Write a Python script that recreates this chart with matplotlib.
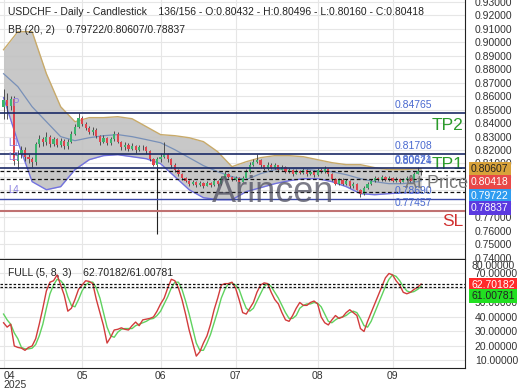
import numpy as np
import pandas as pd
import matplotlib
matplotlib.use("Agg")
import matplotlib.pyplot as plt

plt.rcParams['font.family'] = ['Liberation Sans', 'DejaVu Sans']

# daily candles, USDCHF, from 2025-04-01 (open of a bar = previous close)
first_open = 0.852
close = [0.857, 0.853, 0.858, 0.812, 0.817, 0.820, 0.815, 0.813, 0.811, 0.8245,
         0.828, 0.826, 0.830, 0.8245, 0.828, 0.824, 0.827, 0.823, 0.826, 0.832,
         0.837, 0.844, 0.8395, 0.8365, 0.8335, 0.835, 0.8305, 0.826, 0.829, 0.8255,
         0.828, 0.832, 0.826, 0.822, 0.824, 0.821, 0.823, 0.820, 0.8225, 0.822,
         0.819, 0.813, 0.809, 0.813, 0.815, 0.817, 0.813, 0.809, 0.8055, 0.8025,
         0.7995, 0.797, 0.795, 0.7965, 0.794, 0.7955, 0.7935, 0.7955, 0.794, 0.797,
         0.795, 0.7995, 0.8025, 0.800, 0.798, 0.7995, 0.7965, 0.7995, 0.804, 0.809,
         0.811, 0.8125, 0.8085, 0.806, 0.809, 0.807, 0.8085, 0.8055, 0.8075, 0.804,
         0.8055, 0.8025, 0.8045, 0.803, 0.8055, 0.8025, 0.804, 0.8015, 0.8055, 0.804,
         0.806, 0.8025, 0.7985, 0.795, 0.798, 0.795, 0.797, 0.7935, 0.795, 0.7905,
         0.7875, 0.792, 0.795, 0.797, 0.7995, 0.798, 0.800, 0.798, 0.7995, 0.797,
         0.7985, 0.7965, 0.798, 0.7995, 0.797, 0.8025, 0.80432, 0.80418]
high = [0.865, 0.862, 0.860, 0.860, 0.820, 0.823, 0.822, 0.817, 0.815, 0.826,
        0.831, 0.830, 0.833, 0.831, 0.830, 0.829, 0.829, 0.828, 0.828, 0.834,
        0.839, 0.8476, 0.845, 0.841, 0.838, 0.837, 0.836, 0.831, 0.831, 0.830,
        0.830, 0.834, 0.833, 0.827, 0.826, 0.825, 0.825, 0.824, 0.824, 0.824,
        0.823, 0.820, 0.814, 0.815, 0.8175, 0.826, 0.818, 0.814, 0.810, 0.806,
        0.803, 0.800, 0.798, 0.798, 0.797, 0.797, 0.796, 0.797, 0.796, 0.799,
        0.798, 0.801, 0.8045, 0.803, 0.801, 0.801, 0.800, 0.801, 0.806, 0.811,
        0.813, 0.8168, 0.813, 0.809, 0.811, 0.810, 0.810, 0.809, 0.809, 0.808,
        0.807, 0.806, 0.806, 0.805, 0.807, 0.806, 0.8055, 0.805, 0.807, 0.8065,
        0.808, 0.807, 0.803, 0.799, 0.7995, 0.799, 0.7985, 0.798, 0.7965, 0.7955,
        0.791, 0.7935, 0.7965, 0.7985, 0.801, 0.800, 0.8015, 0.801, 0.801, 0.800,
        0.800, 0.799, 0.7995, 0.801, 0.800, 0.804, 0.8075, 0.80496]
low = [0.843, 0.843, 0.850, 0.809, 0.806, 0.814, 0.812, 0.810, 0.8075, 0.809,
       0.822, 0.823, 0.824, 0.822, 0.823, 0.822, 0.822, 0.821, 0.821, 0.825,
       0.831, 0.836, 0.838, 0.835, 0.832, 0.831, 0.829, 0.824, 0.825, 0.824,
       0.824, 0.827, 0.825, 0.820, 0.820, 0.819, 0.820, 0.818, 0.819, 0.820,
       0.817, 0.812, 0.808, 0.807, 0.811, 0.814, 0.811, 0.807, 0.804, 0.801,
       0.798, 0.796, 0.7935, 0.794, 0.7925, 0.793, 0.792, 0.793, 0.7925, 0.793,
       0.7935, 0.794, 0.799, 0.799, 0.797, 0.797, 0.7955, 0.796, 0.799, 0.803,
       0.808, 0.810, 0.807, 0.805, 0.805, 0.806, 0.806, 0.804, 0.805, 0.803,
       0.803, 0.801, 0.802, 0.802, 0.802, 0.801, 0.8015, 0.800, 0.801, 0.803,
       0.803, 0.801, 0.797, 0.794, 0.794, 0.794, 0.794, 0.792, 0.792, 0.790,
       0.785, 0.7865, 0.791, 0.794, 0.796, 0.797, 0.797, 0.797, 0.797, 0.796,
       0.796, 0.7955, 0.796, 0.797, 0.796, 0.7965, 0.802, 0.80160]

# Bollinger bands (20, 2), read every 4th bar
bb_idx = list(range(0, 117, 4)) + [117]
bb_upper = [0.8944, 0.9078, 0.9078, 0.8766, 0.8521, 0.8410, 0.8440, 0.8440, 0.8447, 0.8432,
            0.8373, 0.8314, 0.8306, 0.8291, 0.8262, 0.8187, 0.8076, 0.8113, 0.8143, 0.8158,
            0.8158, 0.8150, 0.8128, 0.8106, 0.8091, 0.8091, 0.8069, 0.8054, 0.8054, 0.8061, 0.80607]
bb_mid = [0.8766, 0.8670, 0.8521, 0.8410, 0.8299, 0.8269, 0.8291, 0.8306, 0.8314, 0.8299,
          0.8277, 0.8254, 0.8202, 0.8143, 0.8084, 0.8039, 0.8002, 0.7980, 0.8024, 0.8054,
          0.8061, 0.8061, 0.8046, 0.8039, 0.8017, 0.7987, 0.7965, 0.7950, 0.7950, 0.7965, 0.79722]
bb_lower = [0.8588, 0.8262, 0.7965, 0.7905, 0.7928, 0.8054, 0.8128, 0.8158, 0.8165, 0.8150,
            0.8135, 0.8098, 0.8002, 0.7905, 0.7846, 0.7831, 0.7831, 0.7891, 0.7920, 0.7950,
            0.7972, 0.7987, 0.7987, 0.7965, 0.7928, 0.7876, 0.7868, 0.7876, 0.7883, 0.7883, 0.78837]

# full stochastic (5, 8, 3)
stoch_k = [36, 33, 35, 20, 19, 18.5, 17, 19, 20, 25,
           35, 46, 58, 64, 65, 69, 62, 55, 44, 46,
           52, 59, 62, 65, 64.5, 63, 52, 43, 34, 22,
           26, 31, 31.5, 32.5, 31.5, 31, 34, 36.5, 34, 38,
           38.5, 39, 40, 44, 49, 53, 60, 66, 65, 60,
           52, 42, 31, 22, 13, 16, 22, 27, 35, 45,
           53, 62, 63, 63, 64, 60, 52, 43, 42, 46,
           50, 57, 62, 63.5, 63, 57, 52, 49, 43, 38,
           37, 41, 46, 50, 48, 48, 50, 51, 49, 40,
           36, 34.5, 38, 41, 39, 40, 43, 45, 43, 41,
           32, 30, 37, 43, 49, 55, 61, 67, 70, 69,
           65, 62, 57, 56, 57, 59, 60.5, 62.70182]
stoch_d = [42, 38, 35, 29, 25, 19, 18, 18, 18.5, 21,
           27, 35, 46, 56, 62, 66, 65, 62, 54, 48,
           47, 52, 58, 62, 64, 64, 60, 53, 43, 33,
           27, 26, 29.5, 31.5, 32, 32, 32, 34, 35, 36,
           37, 38.5, 39, 41, 44, 49, 54, 60, 64, 64,
           59, 51, 42, 32, 22, 17, 17, 22, 28, 36,
           44, 53, 59, 63, 63.5, 62, 59, 52, 46, 44,
           46, 51, 56, 61, 63, 61, 57, 53, 48, 43,
           39, 39, 41, 46, 48, 49, 49, 50, 49.5, 47,
           42, 37, 36, 38, 39.5, 40, 41, 43, 44, 43,
           39, 34, 33, 37, 43, 49, 55, 61, 66, 69,
           68, 65, 61, 58, 57, 57.5, 59, 61.00781]

tp2, tp1, sl = 0.84765, 0.80671, 0.77457
solid_levels = [0.84765, 0.81708, 0.80671]
dashed_levels = [0.80418, 0.7987, 0.7886]
pivot_low = 0.7837
level_labels = [(0.84765, "0.84765"), (0.81708, "0.81708"), (0.80671, "0.80671"),
                (0.80624, "0.80624"), (0.7837, "0.78690"), (0.77457, "0.77457")]

close = np.array(close)
high = np.array(high)
low = np.array(low)
idx = np.arange(len(close))
opn = np.r_[first_open, close[:-1]]
dates = pd.bdate_range("2025-04-01", periods=len(close))
month_idx = [i for i in idx if i == 0 or dates[i].month != dates[i - 1].month]
month_lab = [dates[i].strftime("%m") for i in month_idx]
month_lab[0] = month_lab[0] + "\n" + dates[0].strftime("%Y")

W, H = 520, 390
fig = plt.figure(figsize=(5.2, 3.9), dpi=100)
ax = fig.add_axes([0, 1 - 259 / H, 465 / W, 259 / H])
ax2 = fig.add_axes([0, 1 - 368 / H, 465 / W, 108 / H], sharex=ax)

for a in (ax, ax2):
    a.spines['top'].set_visible(False)
    a.spines['left'].set_visible(False)
    a.spines['right'].set_color('#222222')
    a.spines['bottom'].set_color('#222222')
    a.yaxis.tick_right()
    a.tick_params(axis='y', length=0, pad=7, labelsize=7.5, labelcolor='#333333')
    a.tick_params(axis='x', length=0)
    a.grid(True, color='#e6e6e6', lw=0.8)
    a.set_axisbelow(True)
    a.set_xticks(month_idx)

ax.set_xlim(-1, 129.3)
ax.set_ylim(0.7391, 0.9313)
ax.set_yticks(np.arange(0.74, 0.935, 0.01))
ax.yaxis.set_major_formatter(plt.FormatStrFormatter('%.5f'))
ax.tick_params(axis='x', labelbottom=False)

# bollinger bands
ax.fill_between(bb_idx, bb_lower, bb_upper, color='#c2c2c2', alpha=0.9, lw=0, zorder=1)
ax.plot(bb_idx, bb_upper, color='#c8aa6a', lw=1.0, zorder=2)
ax.plot(bb_idx, bb_lower, color='#7272e0', lw=1.0, zorder=2)
ax.plot(bb_idx, bb_mid, color='#7890b8', lw=0.9, zorder=2)

# levels
for lv in solid_levels:
    ax.axhline(lv, color='#1b2a66', lw=1.2, zorder=5)
ax.axhline(pivot_low, color='#3a48a8', lw=1.0, zorder=5)
ax.axhline(sl, color='#c07272', lw=1.5, zorder=5)
for lv in dashed_levels:
    ax.axhline(lv, color='#111111', lw=0.9, ls=(0, (3, 2)), zorder=5)

# candles
up = close >= opn
colors = np.where(up, '#3cb46e', '#e0454f')
ax.vlines(idx, low, high, color='#3a3a3a', lw=0.6, zorder=3)
ax.bar(idx, np.maximum(np.abs(close - opn), 0.0004), bottom=np.minimum(opn, close),
       width=0.62, color=colors, zorder=4)
ax.vlines(43, 0.7575, 0.8075, color='#222222', lw=0.8, zorder=4)

for lv, txt in level_labels:
    ax.annotate(txt, (109.6, lv), xytext=(0, 2), textcoords='offset points',
                color='#4a6ad0', fontsize=7.5, va='bottom', zorder=6)
ax.text(120, 0.8378, "TP2", color='#2a9a2a', fontsize=12.5, va='center')
ax.text(120, 0.8089, "TP1", color='#2a9a2a', fontsize=12.5, va='center')
ax.text(122.8, 0.7666, "SL", color='#d03030', fontsize=12.5, va='center')
ax.text(112.5, 0.7952, "At Price", color='#7a7a7a', fontsize=13, va='center', zorder=6)
ax.text(58.5, 0.7881, "Arincen", color='#505060', alpha=0.75, fontsize=26, va='center', zorder=6)
for x, y, t in [(2.4, 0.8549, "P"), (1.2, 0.8252, "L1"), (1.2, 0.8148, "L3"), (1.2, 0.7903, "L4")]:
    ax.text(x, y, t, color='#8a80e0', fontsize=7, va='center', zorder=6)

# stochastic panel
ax2.set_ylim(4.8, 79.3)
ax2.set_yticks(np.arange(10, 71, 10))
ax2.yaxis.set_major_formatter(plt.FormatStrFormatter('%.5f'))
ax2.plot(idx, stoch_d, color='#5fd25f', lw=1.0)
ax2.plot(idx, stoch_k, color='#d23c3c', lw=1.0)
for v in (stoch_k[-1], stoch_d[-1]):
    ax2.axhline(v, color='#111111', lw=0.9, ls=(0, (2, 1.5)))
ax2.set_xticklabels(month_lab)
ax2.tick_params(axis='x', pad=2, labelsize=7.5, labelcolor='#333333')
lab0 = ax2.get_xticklabels()[0]
lab0.set_ha('left')
lab0.set_linespacing(0.85)

# header texts
fig.text(8 / W, 1 - 12 / H, "USDCHF - Daily - Candlestick    136/156 - O:0.80432 - H:0.80496 - L:0.80160 - C:0.80418",
         fontsize=7.5, color='#222222', va='center')
fig.text(8 / W, 1 - 30 / H, "BB (20, 2)    0.79722/0.80607/0.78837", fontsize=7.5, color='#222222', va='center')
fig.text(8 / W, 1 - 273 / H, "FULL (5, 8, 3)    62.70182/61.00781", fontsize=7.5, color='#222222', va='center')
fig.text(472 / W, 1 - 266 / H, "80.00000", fontsize=7.5, color='#333333', va='center')

# value boxes on the right axis
boxes = [(169, "0.80607", '#d8a23a', '#222222'), (182, "0.80418", '#e84848', 'white'),
         (196, "0.79722", '#2f9cf0', 'white'), (208, "0.78837", '#5b3ae0', 'white'),
         (285, "62.70182", '#ff2a2a', 'white'), (296, "61.00781", '#22e022', '#222222')]
for y, t, bg, fg in boxes:
    fig.text(471 / W, 1 - y / H, t, fontsize=7.5, color=fg, va='center',
             bbox=dict(boxstyle='square,pad=0.2', fc=bg, ec='none'))

fig.savefig("out.png", dpi=100)
